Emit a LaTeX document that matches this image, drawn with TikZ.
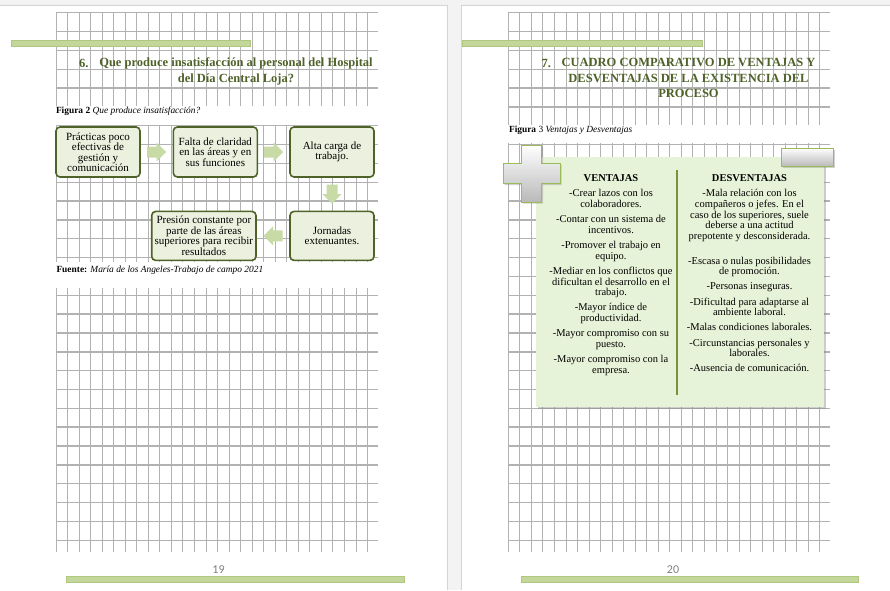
\documentclass[tikz,border=0pt]{standalone}
\usepackage{fontspec}
\setmainfont{Liberation Serif}
\newfontfamily\pagenofont{Carlito}
\usetikzlibrary{positioning,calc,shadows}

\definecolor{deskgray}{HTML}{F3F3F3}
\definecolor{pageedge}{HTML}{D4D4D4}
\definecolor{gridgray}{HTML}{B2B2B2}
\definecolor{headgreen}{HTML}{4F6228}
\definecolor{barfill}{HTML}{C4D79B}
\definecolor{barline}{HTML}{AFC77F}
\definecolor{boxfill}{HTML}{EBF1DE}
\definecolor{boxline}{HTML}{4F6228}
\definecolor{arrowfill}{HTML}{C8DBA6}
\definecolor{panelfill}{HTML}{E7F3D8}
\definecolor{divline}{HTML}{77933C}
\definecolor{signline}{HTML}{9BBB59}

\tikzset{
    vline/.style = {draw=gridgray, line width=1pt},
    hline/.style = {draw=gridgray, line width=1.4pt},
    bar/.style = {fill=barfill, draw=barline, line width=.6pt},
    heading/.style = {
        text=headgreen, align=center,
        inner sep=0, outer sep=0,
        font=\bfseries\fontsize{12.5}{15.5}\selectfont
    },
    caption/.style = {
        inner sep=0, outer sep=0, anchor=west,
        font=\fontsize{9.4}{10}\selectfont
    },
    flowbox/.style = {
        draw=boxline, fill=boxfill, rectangle, rounded corners=4pt,
        line width=1.6pt, align=center,
        outer sep=0,
        inner sep=0,
        minimum width=84pt,
        minimum height=50pt,
        font=\fontsize{11}{10.5}\selectfont
    },
    panel/.style = {
        fill=panelfill, rectangle,
        inner sep=0, outer sep=0,
        drop shadow={shadow xshift=2pt,shadow yshift=-2pt,opacity=.4}
    },
    sign/.style = {
        draw=signline, line width=.8pt,
        top color=white, bottom color=gray!55,
        drop shadow={shadow xshift=1.5pt,shadow yshift=-1.5pt,opacity=.35}
    },
    column/.style = {
        align=center, anchor=north,
        inner sep=0, outer sep=0,
        font=\fontsize{10.5}{10.8}\selectfont
    },
    pageno/.style = {
        text=gray, inner sep=0,
        font=\pagenofont\fontsize{12}{12}\selectfont
    }
}
\newcommand{\gridsheet}[1]{
  \foreach \k in {0,...,27}
    \draw[vline] ({#1+11.54*\k},12.7) -- ({#1+11.54*\k},552);
  \foreach \j in {0,...,28}
    \draw[hline] (#1,{12.7+18.84*\j}) -- ({#1+322},{12.7+18.84*\j});
}
% block arrow at a coordinate, turned by #2
\newcommand{\blockarrow}[2]{
  \fill[arrowfill,shift={(#1)},rotate=#2]
    (-9.5,-5.5) -- (0,-5.5) -- (0,-9.5) -- (9.5,0) -- (0,9.5) -- (0,5.5) -- (-9.5,5.5) -- cycle;
}

\begin{document}
\begin{tikzpicture}[x=1pt,y=-1pt]
\useasboundingbox (0,0) rectangle (890,590);

% 1. desk and two pages
\fill[deskgray] (0,0) rectangle (890,590);
\fill[white] (0,5.5) rectangle (447,590);
\fill[white] (461.5,5.5) rectangle (890,590);
\draw[pageedge] (0,5.5) -- (447,5.5) -- (447,590);
\draw[pageedge] (890,5.5) -- (461.5,5.5) -- (461.5,590);

% 2. squared paper, blanked behind the caption lines
\gridsheet{56}
\gridsheet{508.3}
\fill[white] (54,105.5) rectangle (380,124.5);
\fill[white] (54,262) rectangle (380,288);
\fill[white] (506,124.5) rectangle (832,143);

% 3. green bars
\draw[bar] (11,40) rectangle (250,46.5);
\draw[bar] (462,40) rectangle (702,46.5);
\draw[bar] (66,576) rectangle (404,582);
\draw[bar] (521,576) rectangle (858.5,582);

% 4. headings and captions
\node[heading,anchor=west] (num6) at (79,63.5) {6.};
\node[heading] (head6) at (236,71.5)
  {Que produce insatisfacción al personal del Hospital\\ del Día Central Loja?};
\node[heading,anchor=west] (num7) at (541.7,63.3) {7.};
\node[heading] (head7) at (688.5,78.3)
  {CUADRO COMPARATIVO DE VENTAJAS Y\\ DESVENTAJAS DE LA EXISTENCIA DEL\\ PROCESO};

\node[caption] (fig2) at (56,111)
  {\textbf{Figura 2} \textit{Que produce insatisfacción?}};
\node[caption] (src2) at (56.5,270.5)
  {\textbf{Fuente:} \textit{María de los Angeles-Trabajo de campo 2021}};
\node[caption] (fig3) at (509,130.5)
  {\textbf{Figura} 3 \textit{Ventajas y Desventajas}};

% 5. flow of causes
\node[flowbox] (practicas) at (98,152)
  {Prácticas poco\\ efectivas de\\ gestión y\\ comunicación};
\node[flowbox,right=33.3pt of practicas] (falta)
  {Falta de claridad\\ en las áreas y en\\ sus funciones};
\node[flowbox,right=32.7pt of falta] (carga) {Alta carga de\\ trabajo.};
\node[flowbox,below=34.4pt of carga,minimum height=49pt] (jornadas)
  {Jornadas\\ extenuantes.};
\node[flowbox,left=34pt of jornadas,minimum width=104.3pt,minimum height=49pt] (presion)
  {Presión constante por\\ parte de las áreas\\ superiores para recibir\\ resultados};

\coordinate (ar1) at ($(practicas.east)!.5!(falta.west)$);
\coordinate (ar2) at ($(falta.east)!.5!(carga.west)$);
\coordinate (ar3) at ($(carga.south)!.5!(jornadas.north)$);
\coordinate (ar4) at ($(jornadas.west)!.5!(presion.east)$);
\blockarrow{ar1}{0}
\blockarrow{ar2}{0}
\blockarrow{ar3}{-90}
\blockarrow{ar4}{180}

% 6. comparison panel with plus and minus signs
\node[panel,minimum width=288pt,minimum height=250pt] (cuadro) at (680,282) {};
\draw[divline,line width=1.6pt] (677,170) -- (677,395);
\path[sign] (521.5,145) -- (541.5,145) -- (541.5,163.5) -- (560,163.5)
  -- (560,183.5) -- (541.5,183.5) -- (541.5,202) -- (521.5,202)
  -- (521.5,183.5) -- (503,183.5) -- (503,163.5) -- (521.5,163.5) -- cycle;
\path[sign] (781,148) rectangle (833,166.5);

\node[column] (ventajas) at (611,174.5) {
  \textbf{VENTAJAS}\\[4.3pt]
  -Crear lazos con los\\ colaboradores.\\[4.3pt]
  -Contar con un sistema de\\ incentivos.\\[4.3pt]
  -Promover el trabajo en\\ equipo.\\[4.3pt]
  -Mediar en los conflictos que\\ dificultan el desarrollo en el\\ trabajo.\\[4.3pt]
  -Mayor índice de\\ productividad.\\[4.3pt]
  -Mayor compromiso con su\\ puesto.\\[4.3pt]
  -Mayor compromiso con la\\ empresa.};
\node[column] (desventajas) at (749.5,174.5) {
  \textbf{DESVENTAJAS}\\[4.3pt]
  -Mala relación con los\\ compañeros o jefes. En el\\ caso de los superiores, suele\\
  deberse a una actitud\\ prepotente y desconsiderada.\\[13.5pt]
  -Escasa o nulas posibilidades\\ de promoción.\\[4.3pt]
  -Personas inseguras.\\[4.3pt]
  -Dificultad para adaptarse al\\ ambiente laboral.\\[4.3pt]
  -Malas condiciones laborales.\\[4.3pt]
  -Circunstancias personales y\\ laborales.\\[4.3pt]
  -Ausencia de comunicación.};

% 7. page numbers
\node[pageno] (p19) at (218.5,570) {19};
\node[pageno] (p20) at (673,570) {20};

\end{tikzpicture}
\end{document}
